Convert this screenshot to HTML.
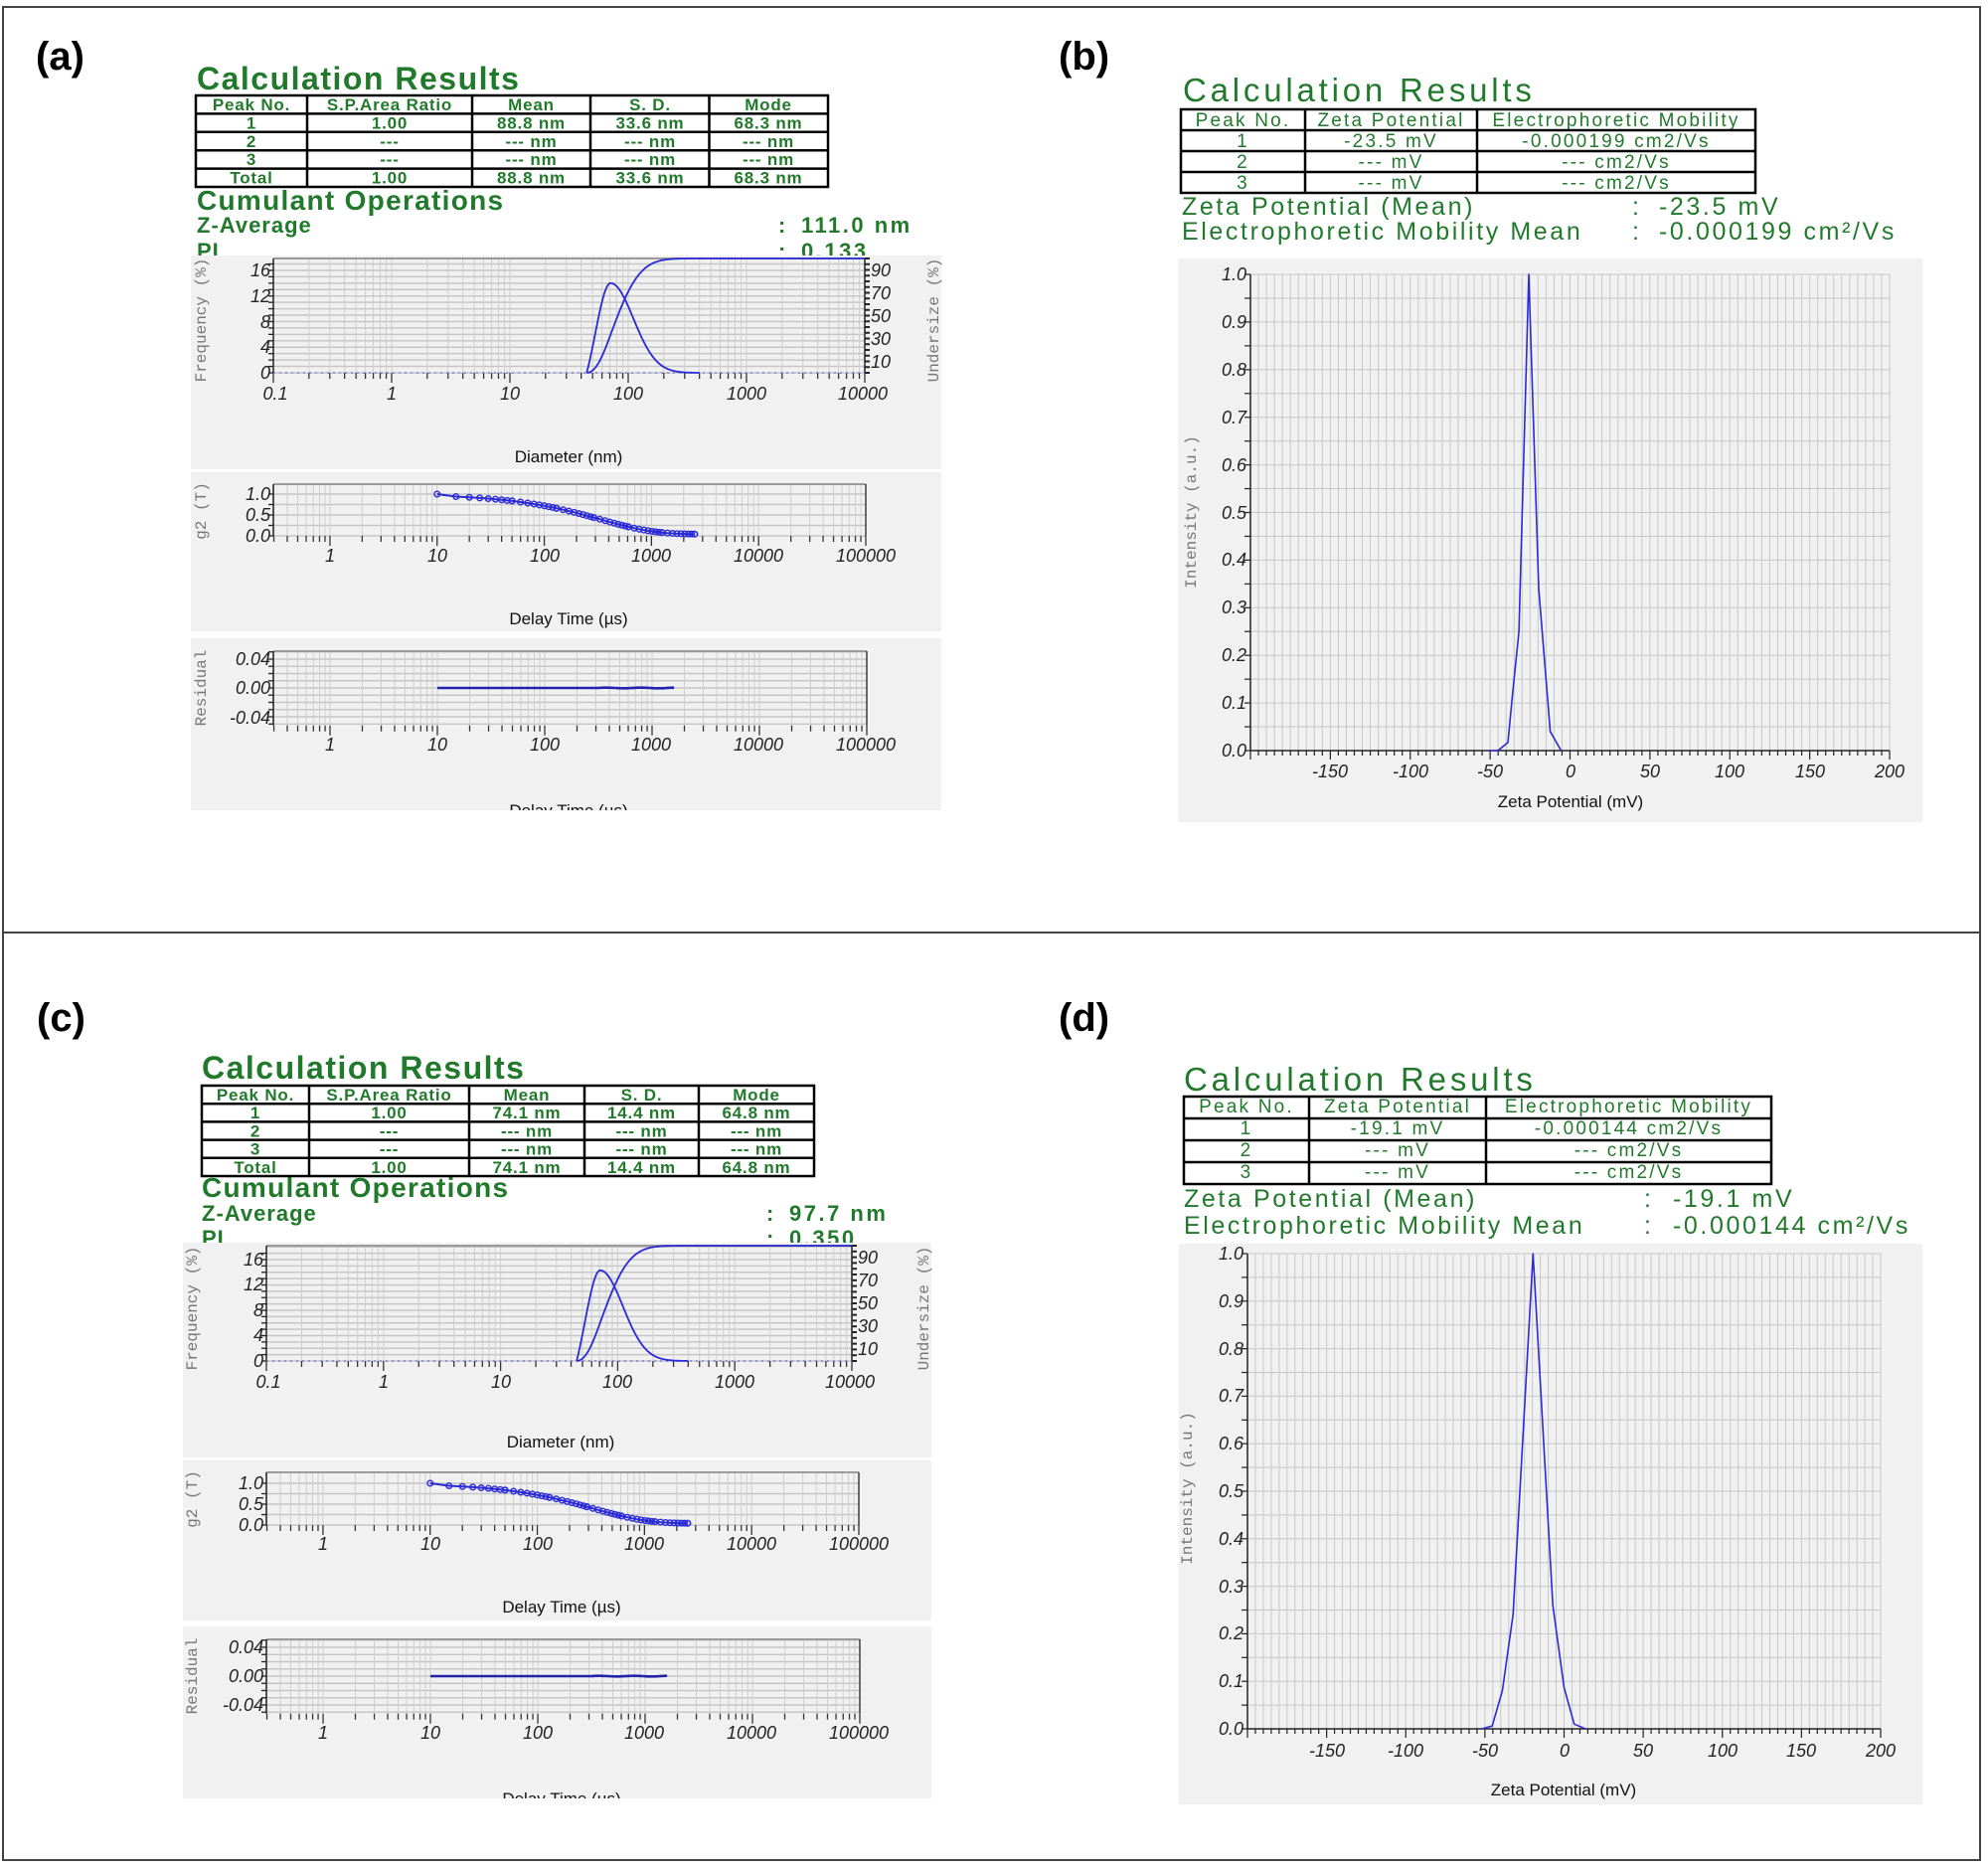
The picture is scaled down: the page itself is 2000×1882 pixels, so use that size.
<!DOCTYPE html>
<html><head><meta charset="utf-8"><style>
html,body{margin:0;padding:0;background:#fff;}
svg{display:block;}
.g{fill:#217a2b;}
.tk{font-style:italic;font-size:18px;fill:#222;}
.mono{font-family:"Liberation Mono",monospace;font-size:16px;fill:#777;}
</style></head><body>
<svg id="s" width="2000" height="1882" xmlns="http://www.w3.org/2000/svg" font-family="Liberation Sans, Arial, sans-serif">
<rect width="2000" height="1882" fill="#fff"/>
<rect x="3" y="7" width="1989" height="1864" fill="none" stroke="#444" stroke-width="2"/>
<line x1="3" y1="938" x2="1992" y2="938" stroke="#444" stroke-width="2"/>
<g font-weight="bold" font-size="40" fill="#000">
<text x="36" y="70">(a)</text><text x="1065" y="70">(b)</text>
<text x="37" y="1037">(c)</text><text x="1065" y="1037">(d)</text>
</g>
<!-- (a) header -->
<g class="g" font-weight="bold">
<text x="198" y="90" font-size="32" letter-spacing="1.5">Calculation Results</text>
<text x="198" y="211" font-size="28" letter-spacing="1.3">Cumulant Operations</text>
<text x="198" y="234" font-size="22" letter-spacing="1">Z-Average</text>
<text x="783" y="234" font-size="22">:</text><text x="806" y="234" font-size="22" letter-spacing="2.5">111.0 nm</text>
<text x="198" y="260" font-size="22" letter-spacing="1">PI</text>
<text x="783" y="260" font-size="22">:</text><text x="806" y="260" font-size="22" letter-spacing="2.5">0.133</text>
<g font-size="17" text-anchor="middle" letter-spacing="0.8">
<text x="253" y="111">Peak No.</text><text x="392" y="111">S.P.Area Ratio</text><text x="534.5" y="111">Mean</text><text x="654" y="111">S. D.</text><text x="773" y="111">Mode</text>
<text x="253" y="129.4">1</text><text x="392" y="129.4">1.00</text><text x="534.5" y="129.4">88.8 nm</text><text x="654" y="129.4">33.6 nm</text><text x="773" y="129.4">68.3 nm</text>
<text x="253" y="147.8">2</text><text x="392" y="147.8">---</text><text x="534.5" y="147.8">--- nm</text><text x="654" y="147.8">--- nm</text><text x="773" y="147.8">--- nm</text>
<text x="253" y="166.2">3</text><text x="392" y="166.2">---</text><text x="534.5" y="166.2">--- nm</text><text x="654" y="166.2">--- nm</text><text x="773" y="166.2">--- nm</text>
<text x="253" y="184.6">Total</text><text x="392" y="184.6">1.00</text><text x="534.5" y="184.6">88.8 nm</text><text x="654" y="184.6">33.6 nm</text><text x="773" y="184.6">68.3 nm</text>
</g>
</g>
<!-- (c) header -->
<g class="g" font-weight="bold">
<text x="203" y="1085" font-size="32" letter-spacing="1.5">Calculation Results</text>
<text x="203" y="1204" font-size="28" letter-spacing="1.3">Cumulant Operations</text>
<text x="203" y="1228" font-size="22" letter-spacing="1">Z-Average</text>
<text x="771" y="1228" font-size="22">:</text><text x="794" y="1228" font-size="22" letter-spacing="2.5">97.7 nm</text>
<text x="203" y="1253" font-size="22" letter-spacing="1">PI</text>
<text x="771" y="1253" font-size="22">:</text><text x="794" y="1253" font-size="22" letter-spacing="2.5">0.350</text>
<g font-size="17" text-anchor="middle" letter-spacing="0.8">
<text x="257" y="1107">Peak No.</text><text x="391.5" y="1107">S.P.Area Ratio</text><text x="530" y="1107">Mean</text><text x="645.5" y="1107">S. D.</text><text x="761" y="1107">Mode</text>
<text x="257" y="1125.2">1</text><text x="391.5" y="1125.2">1.00</text><text x="530" y="1125.2">74.1 nm</text><text x="645.5" y="1125.2">14.4 nm</text><text x="761" y="1125.2">64.8 nm</text>
<text x="257" y="1143.4">2</text><text x="391.5" y="1143.4">---</text><text x="530" y="1143.4">--- nm</text><text x="645.5" y="1143.4">--- nm</text><text x="761" y="1143.4">--- nm</text>
<text x="257" y="1161.6">3</text><text x="391.5" y="1161.6">---</text><text x="530" y="1161.6">--- nm</text><text x="645.5" y="1161.6">--- nm</text><text x="761" y="1161.6">--- nm</text>
<text x="257" y="1179.8">Total</text><text x="391.5" y="1179.8">1.00</text><text x="530" y="1179.8">74.1 nm</text><text x="645.5" y="1179.8">14.4 nm</text><text x="761" y="1179.8">64.8 nm</text>
</g>
</g>
<!-- (b) header -->
<g class="g">
<text x="1190" y="102" font-size="33" letter-spacing="3.8">Calculation Results</text>
<g font-size="19" text-anchor="middle" letter-spacing="2.2">
<text x="1250.5" y="127">Peak No.</text><text x="1399.5" y="127">Zeta Potential</text><text x="1626" y="127">Electrophoretic Mobility</text>
<text x="1250.5" y="148">1</text><text x="1399.5" y="148">-23.5 mV</text><text x="1626" y="148">-0.000199 cm2/Vs</text>
<text x="1250.5" y="169">2</text><text x="1399.5" y="169">--- mV</text><text x="1626" y="169">--- cm2/Vs</text>
<text x="1250.5" y="190">3</text><text x="1399.5" y="190">--- mV</text><text x="1626" y="190">--- cm2/Vs</text>
</g>
<g font-size="25" letter-spacing="2.6">
<text x="1189" y="216">Zeta Potential (Mean)</text><text x="1642" y="216">:</text><text x="1669" y="216">-23.5 mV</text>
<text x="1189" y="241">Electrophoretic Mobility Mean</text><text x="1642" y="241">:</text><text x="1669" y="241">-0.000199 cm²/Vs</text>
</g>
</g>
<!-- (d) header -->
<g class="g">
<text x="1191" y="1097" font-size="33" letter-spacing="3.8">Calculation Results</text>
<g font-size="19" text-anchor="middle" letter-spacing="2.2">
<text x="1254" y="1119">Peak No.</text><text x="1406" y="1119">Zeta Potential</text><text x="1638.5" y="1119">Electrophoretic Mobility</text>
<text x="1254" y="1141">1</text><text x="1406" y="1141">-19.1 mV</text><text x="1638.5" y="1141">-0.000144 cm2/Vs</text>
<text x="1254" y="1163">2</text><text x="1406" y="1163">--- mV</text><text x="1638.5" y="1163">--- cm2/Vs</text>
<text x="1254" y="1185">3</text><text x="1406" y="1185">--- mV</text><text x="1638.5" y="1185">--- cm2/Vs</text>
</g>
<g font-size="25" letter-spacing="2.6">
<text x="1191" y="1214">Zeta Potential (Mean)</text><text x="1654" y="1214">:</text><text x="1683" y="1214">-19.1 mV</text>
<text x="1191" y="1241">Electrophoretic Mobility Mean</text><text x="1654" y="1241">:</text><text x="1683" y="1241">-0.000144 cm²/Vs</text>
</g>
</g>

<g id="dyn"></g>

<!-- labels (a) -->
<g class="tk" text-anchor="middle">
<text x="277" y="402">0.1</text><text x="394" y="402">1</text><text x="513" y="402">10</text><text x="632" y="402">100</text><text x="751" y="402">1000</text><text x="868" y="402">10000</text>
<text x="332" y="565">1</text><text x="440" y="565">10</text><text x="548" y="565">100</text><text x="655" y="565">1000</text><text x="763" y="565">10000</text><text x="871" y="565">100000</text>
<text x="332" y="755">1</text><text x="440" y="755">10</text><text x="548" y="755">100</text><text x="655" y="755">1000</text><text x="763" y="755">10000</text><text x="871" y="755">100000</text>
</g>
<g class="tk" text-anchor="end">
<text x="272" y="278">16</text><text x="272" y="304">12</text><text x="272" y="330">8</text><text x="272" y="355">4</text><text x="272" y="381">0</text>
<text x="272" y="503">1.0</text><text x="272" y="524">0.5</text><text x="272" y="545">0.0</text>
<text x="272" y="669">0.04</text><text x="272" y="698">0.00</text><text x="272" y="728">-0.04</text>
</g>
<g class="tk">
<text x="876" y="278">90</text><text x="876" y="301">70</text><text x="876" y="324">50</text><text x="876" y="347">30</text><text x="876" y="370">10</text>
</g>
<g font-size="17" fill="#111" text-anchor="middle">
<text x="572" y="465">Diameter (nm)</text>
<text x="572" y="628">Delay Time (µs)</text>
<text x="572" y="821">Delay Time (µs)</text>
</g>
<text class="mono" transform="translate(207,322) rotate(-90)" text-anchor="middle">Frequency (%)</text>
<text class="mono" transform="translate(944,322) rotate(-90)" text-anchor="middle">Undersize (%)</text>
<text class="mono" transform="translate(207,514) rotate(-90)" text-anchor="middle">g2 (T)</text>
<text class="mono" transform="translate(207,692) rotate(-90)" text-anchor="middle">Residual</text>
<rect x="150" y="815" width="820" height="20" fill="#fff"/>

<!-- labels (c) -->
<g class="tk" text-anchor="middle">
<text x="270" y="1396">0.1</text><text x="386" y="1396">1</text><text x="504" y="1396">10</text><text x="621" y="1396">100</text><text x="739" y="1396">1000</text><text x="855" y="1396">10000</text>
<text x="325" y="1559">1</text><text x="433" y="1559">10</text><text x="541" y="1559">100</text><text x="648" y="1559">1000</text><text x="756" y="1559">10000</text><text x="864" y="1559">100000</text>
<text x="325" y="1749">1</text><text x="433" y="1749">10</text><text x="541" y="1749">100</text><text x="648" y="1749">1000</text><text x="756" y="1749">10000</text><text x="864" y="1749">100000</text>
</g>
<g class="tk" text-anchor="end">
<text x="265" y="1273">16</text><text x="265" y="1298">12</text><text x="265" y="1324">8</text><text x="265" y="1349">4</text><text x="265" y="1375">0</text>
<text x="265" y="1498">1.0</text><text x="265" y="1519">0.5</text><text x="265" y="1540">0.0</text>
<text x="265" y="1663">0.04</text><text x="265" y="1692">0.00</text><text x="265" y="1721">-0.04</text>
</g>
<g class="tk">
<text x="863" y="1271">90</text><text x="863" y="1294">70</text><text x="863" y="1317">50</text><text x="863" y="1340">30</text><text x="863" y="1363">10</text>
</g>
<g font-size="17" fill="#111" text-anchor="middle">
<text x="564" y="1456">Diameter (nm)</text>
<text x="565" y="1622">Delay Time (µs)</text>
<text x="565" y="1815">Delay Time (µs)</text>
</g>
<text class="mono" transform="translate(198,1316) rotate(-90)" text-anchor="middle">Frequency (%)</text>
<text class="mono" transform="translate(934,1316) rotate(-90)" text-anchor="middle">Undersize (%)</text>
<text class="mono" transform="translate(198,1508) rotate(-90)" text-anchor="middle">g2 (T)</text>
<text class="mono" transform="translate(198,1686) rotate(-90)" text-anchor="middle">Residual</text>
<rect x="150" y="1809" width="820" height="20" fill="#fff"/>

<!-- labels (b) -->
<g class="tk" text-anchor="middle">
<text x="1338" y="782">-150</text><text x="1419" y="782">-100</text><text x="1499" y="782">-50</text><text x="1580" y="782">0</text><text x="1660" y="782">50</text><text x="1740" y="782">100</text><text x="1821" y="782">150</text><text x="1901" y="782">200</text>
</g>
<g class="tk" text-anchor="end">
<text x="1254" y="282">1.0</text><text x="1254" y="330">0.9</text><text x="1254" y="378">0.8</text><text x="1254" y="426">0.7</text><text x="1254" y="474">0.6</text><text x="1254" y="522">0.5</text><text x="1254" y="569">0.4</text><text x="1254" y="617">0.3</text><text x="1254" y="665">0.2</text><text x="1254" y="713">0.1</text><text x="1254" y="761">0.0</text>
</g>
<text x="1580" y="812" font-size="17" fill="#111" text-anchor="middle">Zeta Potential (mV)</text>
<text class="mono" transform="translate(1203,515) rotate(-90)" text-anchor="middle">Intensity (a.u.)</text>

<!-- labels (d) -->
<g class="tk" text-anchor="middle">
<text x="1335" y="1767">-150</text><text x="1414" y="1767">-100</text><text x="1494" y="1767">-50</text><text x="1574" y="1767">0</text><text x="1653" y="1767">50</text><text x="1733" y="1767">100</text><text x="1812" y="1767">150</text><text x="1892" y="1767">200</text>
</g>
<g class="tk" text-anchor="end">
<text x="1251" y="1267">1.0</text><text x="1251" y="1315">0.9</text><text x="1251" y="1363">0.8</text><text x="1251" y="1410">0.7</text><text x="1251" y="1458">0.6</text><text x="1251" y="1506">0.5</text><text x="1251" y="1554">0.4</text><text x="1251" y="1602">0.3</text><text x="1251" y="1649">0.2</text><text x="1251" y="1697">0.1</text><text x="1251" y="1745">0.0</text>
</g>
<text x="1573" y="1806" font-size="17" fill="#111" text-anchor="middle">Zeta Potential (mV)</text>
<text class="mono" transform="translate(1199,1497) rotate(-90)" text-anchor="middle">Intensity (a.u.)</text>
</svg>
<script>
(function(){
var NS='http://www.w3.org/2000/svg',G=document.getElementById('dyn');
function el(t,a){var e=document.createElementNS(NS,t);for(var k in a)e.setAttribute(k,a[k]);G.appendChild(e);return e;}
function line(x1,y1,x2,y2,c,w){el('line',{x1:x1,y1:y1,x2:x2,y2:y2,stroke:c,'stroke-width':w||1});}
function rect(x,y,w,h,f){el('rect',{x:x,y:y,width:w,height:h,fill:f});}
function poly(p,c,w){el('polyline',{points:p.map(function(q){return q[0].toFixed(1)+','+q[1].toFixed(1)}).join(' '),fill:'none',stroke:c,'stroke-width':w||1.6,'stroke-linejoin':'round'});}
function table(x0,x1,y0,y1,cols,rows){el('rect',{x:x0,y:y0,width:x1-x0,height:y1-y0,fill:'none',stroke:'#000','stroke-width':2.5});
 cols.forEach(function(c){line(c,y0,c,y1,'#000',2.5);});
 var h=(y1-y0)/rows;for(var i=1;i<rows;i++)line(x0,y0+i*h,x1,y0+i*h,'#000',2.5);}
var BLUE='#2a2ad6';
function logLines(X0,X1,lmin,lmax,T,B){var xs=[];for(var k=Math.floor(lmin);k<=Math.ceil(lmax);k++)for(var m=1;m<=9;m++){var l=k+Math.log10(m);if(l>=lmin-1e-9&&l<=lmax+1e-9){var x=X0+(l-lmin)/(lmax-lmin)*(X1-X0);xs.push([x,m==1]);}}
 xs.forEach(function(v){line(v[0],T,v[0],B,'#cfcfcf',1);});
 xs.forEach(function(v){line(v[0],B,v[0],B+(v[1]?10:6),'#333',1.3);});
 return xs;}
function freqPanel(X0,X1,T,B,unit,peak){
 var lmin=-1,lmax=4;function xf(d){return X0+(Math.log10(d)-lmin)/(lmax-lmin)*(X1-X0);}
 for(var k=0;k<=18;k++){var y=B-k*unit;if(y>T)line(X0,y,X1,y,'#c6c6c6',1.5);}
 logLines(X0,X1,lmin,lmax,T,B);
 line(X0,T,X1,T,'#9a9a9a',2);
 line(X0,T,X0,B,'#222',1.5);line(X1,T,X1,B,'#222',1.5);
 for(k=0;k<=17;k++){y=B-k*unit;line(X0-5,y,X0,y,'#222',1.3);}
 for(k=0;k<=100;k+=5){y=B-k*(B-T)/100;line(X1,y,X1+5,y,'#222',2);}
 el('line',{x1:X0,y1:B,x2:X1,y2:B,stroke:'#6b6bd8','stroke-width':1.3,'stroke-dasharray':'2,4'});
 var lp=Math.log(71),sl=0.298,sr=0.443,dmin=44.6;
 var g0=Math.exp(-Math.pow(Math.log(dmin)-lp,2)/(2*sl*sl));
 function f(d){var l=Math.log(d);if(d<dmin)return 0;if(l<lp){var g=Math.exp(-Math.pow(l-lp,2)/(2*sl*sl));return (g-g0)/(1-g0);}return Math.exp(-Math.pow(l-lp,2)/(2*sr*sr));}
 var pts=[],cum=[],s=0,N=240,vals=[];
 for(var i=0;i<=N;i++){var d=dmin*Math.pow(400/dmin,i/N);vals.push([d,f(d)]);}
 var tot=0;vals.forEach(function(v){tot+=v[1];});
 vals.forEach(function(v){s+=v[1];pts.push([xf(v[0]),B-peak*v[1]*unit]);cum.push([xf(v[0]),B-(s/tot)*(B-T)]);});
 cum.push([X1,T]);
 poly(pts,BLUE,1.8);poly(cum,BLUE,1.8);}
function g2Panel(X0,X1,T,z1,z0,kind){
 var lmin=-0.528,lmax=5;function xf(t){return X0+(Math.log10(t)-lmin)/(lmax-lmin)*(X1-X0);}
 var B,ys=[];
 if(kind=='g2'){B=z0;var u=(z0-z1);for(var v=0;v<=1.2;v+=0.25)ys.push(z0-v*u);}
 else{var u2=(z0-z1)/4;B=z0+u2*5.2;for(var k=-5;k<=5;k++)ys.push(z0+k*u2);}
 ys.forEach(function(y){if(y>T&&y<=B)line(X0,y,X1,y,'#c6c6c6',1.5);});
 logLines(X0,X1,lmin,lmax,T,B);
 line(X0,T,X1,T,'#9a9a9a',2);
 line(X0,T,X0,B,'#222',1.5);line(X1,T,X1,B,'#222',1.3);
 ys.forEach(function(y){if(y>=T&&y<=B)line(X0-5,y,X0,y,'#222',1.3);});
 if(kind=='g2'){var u3=z0-z1;
  function g(t){return 0.04+0.96*Math.exp(-Math.pow(t/335,0.88));}
  var ts=[],t=10,step=5;while(t<=2600){ts.push(t);for(var j=0;j<8&&t<=2600;j++){t+=step;ts.push(t);}step*=2;}
  ts=ts.filter(function(x){return x<=2600;});
  var p=ts.map(function(t){return [xf(t),z0-g(t)*u3];});p[0][1]=z1;
  poly(p,BLUE,2);
  p.forEach(function(q){el('circle',{cx:q[0],cy:q[1],r:2.8,fill:'none',stroke:BLUE,'stroke-width':1.4});});
 } else {
  var p2=[];for(var i=0;i<=60;i++){var t2=10*Math.pow(160,i/60);var w=i>40?(Math.sin(i*0.7)*0.35):0;p2.push([xf(t2),z0+w]);}
  poly(p2,'#2222aa',2.6);
 }}
function zetaPanel(X0,X1,T,B,pts){
 for(var v=-200;v<=200;v+=5){var x=X0+(v+200)/400*(X1-X0);line(x,T,x,B,'#c8c8c8',1);line(x,B,x,B+(v%50==0?9:5),'#222',1.2);}
 for(var k=0;k<=20;k++){var y=B-k*(B-T)/20;line(X0,y,X1,y,'#c8c8c8',1);line(X0-6,y,X0,y,'#222',1.2);}
 line(X0,T,X0,B,'#222',1.5);line(X0,B,X1,B,'#222',1.5);
 poly(pts.map(function(p){return [X0+(p[0]+200)/400*(X1-X0),B-p[1]*(B-T)];}),BLUE,1.6);}
table(197,833,96,188,[309,475,594,713.5],5);
table(203,819,1092,1183,[311,472,588,703],5);
table(1188,1766,110,194,[1313,1486],4);
table(1191,1782,1103,1191,[1317,1495],4);
rect(192,257,755,215,'#f1f1f1');rect(192,475,755,160,'#f1f1f1');rect(192,642,755,173,'#f1f1f1');
freqPanel(275,870,260,375,6.44,14);
g2Panel(275,871,487,497,539,'g2');
g2Panel(275,872,655,663,692,'res');
rect(184,1250,753,216,'#f1f1f1');rect(184,1469,753,161,'#f1f1f1');rect(184,1636,753,173,'#f1f1f1');
freqPanel(268,857,1253,1369,6.375,14.3);
g2Panel(268,864,1481,1492,1534,'g2');
g2Panel(268,865,1649,1657,1686,'res');
rect(1185,260,749,567,'#f1f1f1');
zetaPanel(1258,1901,276,755,[[-50,0],[-45.1,0],[-38.9,0.017],[-35.8,0.125],[-32,0.25],[-25.8,1],[-19.6,0.34],[-12.4,0.04],[-5.6,0]]);
rect(1186,1251,748,564,'#f1f1f1');
zetaPanel(1255,1892,1261,1739,[[-51.9,0],[-45.4,0.006],[-39,0.08],[-32.2,0.24],[-19.6,1],[-7.1,0.26],[0,0.087],[6.4,0.01],[13.5,0]]);
})();
</script>
</body></html>
